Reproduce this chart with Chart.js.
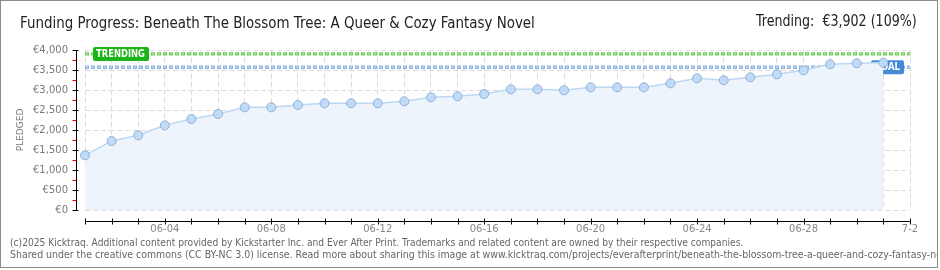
<!DOCTYPE html>
<html>
<head>
<meta charset="utf-8">
<script src="https://cdn.jsdelivr.net/npm/chart.js@4/dist/chart.umd.min.js"></script>
<style>
  html, body { margin: 0; padding: 0; background: #fff; }
  body { width: 940px; height: 270px; position: relative; overflow: hidden; font-family: "DejaVu Sans", sans-serif; }
  #frame { position: absolute; left: 0; top: 0; width: 936px; height: 266px; border: 1px solid #8c8c8c; }
  #clip { position: absolute; left: 1px; top: 1px; width: 936px; height: 266px; overflow: hidden; }
  #chart { position: absolute; left: 0; top: 0; }
  .txt { position: absolute; white-space: nowrap; }
  #title { left: 20px; top: 14px; font-size: 15px; color: #222; transform-origin: left top; }
  #trend { right: 23px; top: 12px; font-size: 15px; color: #222; transform-origin: right top; }
  #foot1, #foot2 { left: 9px; font-size: 10px; color: #666; transform-origin: left top; }
  #foot1 { top: 236px; }
  #foot2 { top: 248px; }
</style>
</head>
<body>
<div id="frame"></div>
<canvas id="chart" width="940" height="270"></canvas>
<div class="txt" id="title">Funding Progress: Beneath The Blossom Tree: A Queer &amp; Cozy Fantasy Novel</div>
<div class="txt" id="trend">Trending:&nbsp; €3,902 (109%)</div>
<div id="clip">
  <div class="txt" id="foot1">(c)2025 Kicktraq. Additional content provided by Kickstarter Inc. and Ever After Print. Trademarks and related content are owned by their respective companies.</div>
  <div class="txt" id="foot2">Shared under the creative commons (CC BY-NC 3.0) license. Read more about sharing this image at www.kicktraq.com/projects/everafterprint/beneath-the-blossom-tree-a-queer-and-cozy-fantasy-novel/</div>
</div>
<script>
const days = ['06-01','06-02','06-03','06-04','06-05','06-06','06-07','06-08','06-09','06-10',
  '06-11','06-12','06-13','06-14','06-15','06-16','06-17','06-18','06-19','06-20',
  '06-21','06-22','06-23','06-24','06-25','06-26','06-27','06-28','06-29','06-30','07-01','7-2'];
const tickLabels = ['06-04','06-08','06-12','06-16','06-20','06-24','06-28','7-2'];
const pledged = [1367, 1725, 1867, 2117, 2275, 2400, 2567, 2567, 2625, 2667,
  2667, 2667, 2717, 2817, 2842, 2900, 3017, 3017, 2992, 3067,
  3067, 3067, 3167, 3292, 3242, 3317, 3392, 3492, 3642, 3667, 3683];
const goal = 3570;
const trending = 3902;

function fit(id, w) {
  const el = document.getElementById(id);
  const k = w / el.offsetWidth;
  el.style.transform = 'scaleX(' + k + ')';
  return k;
}
fit('title', 515);
fit('trend', 161);
const s = fit('foot1', 733);
document.getElementById('foot2').style.transform = 'scaleX(' + (s * 1.03) + ')';

function dotted(ctx, area, y, outer, inner) {
  ctx.save();
  ctx.lineWidth = 3.4;
  ctx.strokeStyle = outer;
  ctx.setLineDash([4, 2]);
  ctx.beginPath(); ctx.moveTo(area.left, y); ctx.lineTo(area.right, y); ctx.stroke();
  ctx.lineWidth = 1.2;
  ctx.strokeStyle = inner;
  ctx.setLineDash([2, 4]);
  ctx.lineDashOffset = -1;
  ctx.beginPath(); ctx.moveTo(area.left, y); ctx.lineTo(area.right, y); ctx.stroke();
  ctx.restore();
}

function tag(ctx, x, yc, w, text, bg) {
  ctx.save();
  ctx.fillStyle = bg;
  ctx.beginPath();
  ctx.roundRect(x, yc - 7, w, 14, 2);
  ctx.fill();
  ctx.fillStyle = '#fff';
  ctx.font = 'bold 10px "DejaVu Sans"';
  ctx.textBaseline = 'middle';
  ctx.fillText(text, x + 3, yc + 0.5, w - 7);
  ctx.restore();
}

const refLines = {
  id: 'refLines',
  beforeDatasetsDraw(chart) {
    const { ctx, chartArea } = chart;
    const y = chart.scales.y;
    const yg = y.getPixelForValue(goal);
    const yt = y.getPixelForValue(trending);
    dotted(ctx, chartArea, yt, '#62cc4c', '#b9eab0');
    dotted(ctx, chartArea, yg, '#8db2df', '#cddff3');
    tag(ctx, chartArea.left + 8, yt, 56, 'TRENDING', '#1cb416');
    tag(ctx, chartArea.right - 39, yg, 33, 'GOAL', 'rgba(52,128,208,0.92)');
  }
};

const axes = {
  id: 'axes',
  afterDraw(chart) {
    const { ctx, chartArea } = chart;
    const x = chart.scales.x, y = chart.scales.y;
    const ax = Math.round(chartArea.left - 9) + 0.5;
    const ay = Math.round(chartArea.bottom + 11) + 0.5;
    ctx.save();
    ctx.lineWidth = 1;
    ctx.strokeStyle = '#000';
    ctx.beginPath(); ctx.moveTo(ax, chartArea.top); ctx.lineTo(ax, chartArea.bottom); ctx.stroke();
    for (let v = 0; v <= 4000; v += 250) {
      const py = Math.round(y.getPixelForValue(v)) + 0.5;
      ctx.strokeStyle = v % 500 === 0 ? '#000' : '#e00000';
      ctx.beginPath();
      ctx.moveTo(ax - 4, py);
      ctx.lineTo(v % 500 === 0 ? ax + 2 : ax, py);
      ctx.stroke();
    }
    ctx.strokeStyle = '#000';
    ctx.beginPath(); ctx.moveTo(chartArea.left, ay); ctx.lineTo(chartArea.right, ay); ctx.stroke();
    for (let i = 0; i < days.length; i++) {
      const px = Math.round(x.getPixelForValue(i)) + 0.5;
      ctx.beginPath(); ctx.moveTo(px, ay - 3); ctx.lineTo(px, ay + 3); ctx.stroke();
    }
    ctx.restore();
  }
};

new Chart(document.getElementById('chart'), {
  type: 'line',
  data: {
    labels: days,
    datasets: [{
      data: pledged,
      borderColor: '#bcd8f3',
      borderWidth: 1.5,
      backgroundColor: '#edf4fc',
      fill: 'origin',
      tension: 0,
      pointRadius: 4.5,
      pointBackgroundColor: 'rgba(190,218,248,0.95)',
      pointBorderColor: '#94b0d2',
      pointBorderWidth: 1
    }]
  },
  options: {
    responsive: false,
    animation: false,
    layout: { padding: { top: 50, right: 30, left: 0, bottom: 0 } },
    plugins: { legend: { display: false }, tooltip: { enabled: false } },
    scales: {
      x: {
        offset: false,
        grid: { color: '#dcdcdc', drawTicks: false },
        border: { display: false, dash: [5, 3] },
        ticks: {
          autoSkip: false, maxRotation: 0, padding: 13,
          color: '#888', font: { family: 'DejaVu Sans', size: 10 },
          callback: (v, i) => tickLabels.includes(days[i]) ? days[i] : ''
        },
        afterFit: s => { s.height = 60; }
      },
      y: {
        min: 0, max: 4000,
        grid: { color: '#dcdcdc', drawTicks: false },
        border: { display: false, dash: [5, 3] },
        ticks: {
          stepSize: 500, padding: 17,
          color: '#777', font: { family: 'DejaVu Sans', size: 10 },
          callback: v => '€' + v.toLocaleString('en-US')
        },
        title: {
          display: true, text: 'PLEDGED', color: '#777',
          font: { family: 'DejaVu Sans', size: 9 },
          padding: { top: 15.6, bottom: 0 }
        },
        afterFit: s => { s.width = 85; }
      }
    }
  },
  plugins: [refLines, axes]
});
</script>
</body>
</html>
